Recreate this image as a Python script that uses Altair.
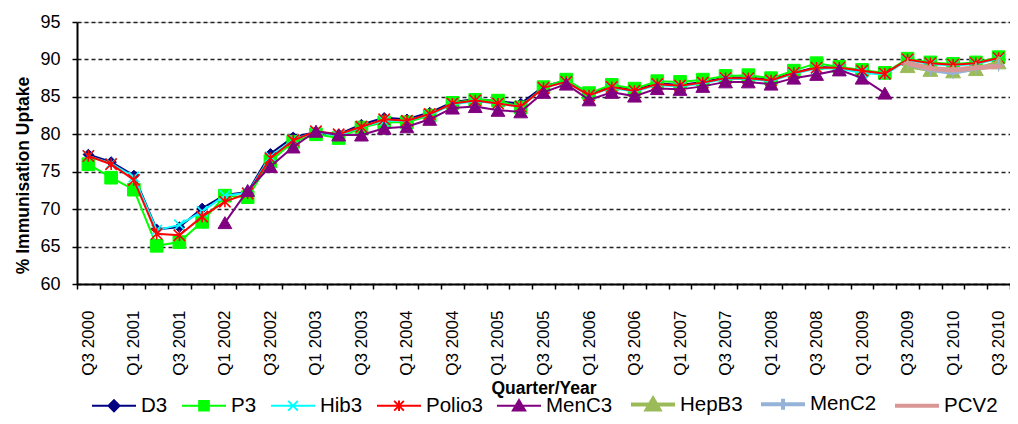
import altair as alt
import pandas as pd

quarters = ["Q3 2000", "Q4 2000",
            "Q1 2001", "Q2 2001", "Q3 2001", "Q4 2001",
            "Q1 2002", "Q2 2002", "Q3 2002", "Q4 2002",
            "Q1 2003", "Q2 2003", "Q3 2003", "Q4 2003",
            "Q1 2004", "Q2 2004", "Q3 2004", "Q4 2004",
            "Q1 2005", "Q2 2005", "Q3 2005", "Q4 2005",
            "Q1 2006", "Q2 2006", "Q3 2006", "Q4 2006",
            "Q1 2007", "Q2 2007", "Q3 2007", "Q4 2007",
            "Q1 2008", "Q2 2008", "Q3 2008", "Q4 2008",
            "Q1 2009", "Q2 2009", "Q3 2009", "Q4 2009",
            "Q1 2010", "Q2 2010", "Q3 2010"]

N = None
d3 = [77.3, 76.3, 74.5, 67.3, 67.6, 70.1, 71.9, 72.3, 77.4, 79.6,
      80.3, 80.0, 81.3, 82.2, 82.0, 82.9, 84.3, 84.7, 84.4, 84.1,
      86.4, 87.2, 85.4, 86.4, 85.9, 86.8, 86.6, 87.0, 87.6, 87.6,
      87.3, 88.2, 89.0, 88.9, 88.5, 88.1, 90.0, 89.5, 89.3, 89.5, 90.2]
p3 = [76.0, 74.2, 72.6, 65.1, 65.6, 68.3, 71.8, 71.6, 76.4, 79.0,
      80.0, 79.5, 80.9, 81.6, 81.6, 82.5, 84.2, 84.6, 84.5, 83.6,
      86.3, 87.3, 85.5, 86.6, 86.1, 87.1, 87.0, 87.3, 87.8, 87.9,
      87.5, 88.5, 89.5, 89.0, 88.6, 88.2, 90.1, 89.6, 89.4, 89.6, 90.3]
hib3 = [77.1, 76.1, 74.3, 67.2, 67.9, 69.7, 71.8, 72.2, 77.0, 79.3,
        80.3, 79.8, 81.0, 81.8, 81.8, 82.6, 84.0, 84.4, 84.1, 83.7,
        86.2, 87.0, 85.2, 86.2, 85.7, 86.6, 86.4, 86.8, 87.4, 87.4,
        87.1, 88.1, 88.8, 88.8, 88.2, 88.0, 89.9, 89.4, 89.2, 89.4, 90.1]
polio3 = [77.1, 76.0, 73.9, 66.7, 66.5, 69.0, 71.0, 72.1, 76.8, 79.2,
          80.4, 80.0, 81.0, 82.0, 81.8, 82.7, 84.1, 84.5, 84.1, 83.7,
          86.2, 87.0, 85.2, 86.3, 85.8, 86.7, 86.5, 86.9, 87.5, 87.5,
          87.2, 88.2, 88.9, 88.9, 88.5, 88.1, 90.0, 89.5, 89.3, 89.5, 90.2]
menc3 = [N, N, N, N, N, N, 68.2, 72.5, 75.7, 78.3,
         80.4, 79.9, 79.9, 80.8, 81.0, 82.0, 83.5, 83.7, 83.2, 83.0,
         85.6, 86.7, 84.6, 85.6, 85.1, 86.1, 86.0, 86.4, 87.0, 87.0,
         86.7, 87.5, 88.0, 88.6, 87.5, 85.5, N, N, N, N, N]
hepb3 = [N] * 36 + [89.1, 88.6, 88.4, 88.7, 89.6]
menc2 = [N] * 36 + [89.4, 88.6, 88.2, 88.8, 89.2]
pcv2 = [N] * 36 + [89.5, 88.8, 88.6, 88.9, 89.1]

series = ["D3", "P3", "Hib3", "Polio3", "MenC3", "HepB3", "MenC2", "PCV2"]
values = [d3, p3, hib3, polio3, menc3, hepb3, menc2, pcv2]
colors = ["#000080", "#00FF00", "#00FFFF", "#FF0000", "#800080",
          "#9BBB59", "#95B3D7", "#D99694"]
line_widths = [2, 2, 2, 2, 2, 4, 4, 5]
shapes = ["diamond", "square", "M-1,-1L1,1M-1,1L1,-1",
          "M-1,-1L1,1M-1,1L1,-1M0,-1L0,1", "triangle-up", "triangle-up",
          "M0,-1L0,1M-1,0L1,0", "M-1,0L1,0"]
sizes = [110, 160, 110, 130, 190, 220, 150, 64]
marker_widths = [1, 1, 1.6, 1.6, 1, 1, 1.2, 3]
legend_paths = [
    "M-1,0L1,0M0,-0.25L0.25,0L0,0.25L-0.25,0Z",
    "M-1,0L1,0M-0.22,-0.22L0.22,-0.22L0.22,0.22L-0.22,0.22Z",
    "M-1,0L1,0M-0.22,-0.22L0.22,0.22M-0.22,0.22L0.22,-0.22",
    "M-1,0L1,0M-0.22,-0.22L0.22,0.22M-0.22,0.22L0.22,-0.22M0,-0.24L0,0.24",
    "M-1,0L1,0M0,-0.26L0.28,0.22L-0.28,0.22Z",
    "M-1,0L1,0M0,-0.26L0.28,0.22L-0.28,0.22Z",
    "M-1,0L1,0M0,-0.25L0,0.25",
    "M-1,0L1,0",
]
legend_widths = [2, 2, 2, 2, 2, 4, 4, 4]

rows = []
for s, vals in zip(series, values):
    for i, v in enumerate(vals):
        if v is not None:
            rows.append({"idx": i, "series": s, "value": v})
df = pd.DataFrame(rows)

FONT = "Liberation Sans"


def js_map(keys, vals, default):
    expr = default
    for k, v in reversed(list(zip(keys, vals))):
        vv = f"'{v}'" if isinstance(v, str) else str(v)
        expr = f"(datum.value === '{k}' ? {vv} : {expr})"
    return expr


label_arr = "[" + ",".join(f"'{q}'" for q in quarters) + "]"
label_expr = (f"(round(datum.value + 0.5) % 2 == 0 && round(datum.value + 0.5) <= 40)"
              f" ? {label_arr}[round(datum.value + 0.5)] : ''")
tick_vals = [i - 0.5 for i in range(len(quarters) + 1)]

W, H = 933, 262
band = W / len(quarters)

x_enc = alt.X("idx:Q",
              scale=alt.Scale(domain=[-0.5, len(quarters) - 0.5], nice=False, zero=False),
              axis=alt.Axis(values=tick_vals, labelExpr=label_expr, labelAngle=270,
                            labelOffset=band / 2, labelOverlap=False, labelFontSize=17,
                            labelFont=FONT, labelColor="black", labelPadding=21,
                            tickSize=5, tickColor="black", tickWidth=1.5,
                            domainColor="black", domainWidth=2, grid=False,
                            title="Quarter/Year", titleFont=FONT, titleFontSize=17.5,
                            titleFontWeight="bold", titleColor="black",
                            titleX=W / 2, titleY=104, titleBaseline="middle"))
y_enc = alt.Y("value:Q",
              scale=alt.Scale(domain=[60, 95], nice=False, zero=False),
              axis=alt.Axis(values=[60, 65, 70, 75, 80, 85, 90, 95], labelFontSize=18,
                            labelFont=FONT, labelColor="black", labelPadding=12,
                            tickSize=5, tickColor="black", tickWidth=1.5,
                            domainColor="black", domainWidth=2,
                            grid=True, gridDash=[4, 3], gridColor="#222222", gridWidth=1.3,
                            title="% Immunisation Uptake", titleFont=FONT, titleFontSize=17.5,
                            titleFontWeight="bold", titleColor="black",
                            titleX=-54, titleY=153, titleAngle=270, titleAlign="center",
                            titleBaseline="middle"))

color_scale = alt.Scale(domain=series, range=colors)

legend = alt.Legend(
    title=None, orient="none", legendX=14, legendY=359, direction="horizontal",
    columns=8, symbolSize=1936, labelFontSize=20.5, labelFont=FONT, labelColor="black",
    labelOffset=4, columnPadding=10, padding=0, labelLimit=300,
    symbolType=alt.ExprRef(js_map(series, legend_paths, "'circle'")),
    symbolStrokeWidth=alt.ExprRef(js_map(series, legend_widths, "2")),
    symbolFillColor=alt.ExprRef("scale('color', datum.value)"),
    symbolStrokeColor=alt.ExprRef("scale('color', datum.value)"),
    symbolOpacity=1,
)

base = alt.Chart(df)
layers = []
for s, c, lw, shp, sz, mw in zip(series, colors, line_widths, shapes, sizes, marker_widths):
    sub = base.transform_filter(alt.datum.series == s)
    layers.append(sub.mark_line(strokeWidth=lw).encode(
        x=x_enc, y=y_enc,
        color=alt.Color("series:N", scale=color_scale, legend=legend),
    ))
    layers.append(sub.mark_point(shape=shp, size=sz, filled=True, fill=c, stroke=c,
                                 strokeWidth=mw, opacity=1).encode(x=x_enc, y=y_enc))

chart = alt.layer(*layers).properties(
    width=W, height=H,
    autosize=alt.AutoSizeParams(type="none"),
    padding={"left": 69, "top": 14, "right": 0, "bottom": 132},
).configure_view(stroke=None).configure(font=FONT, background="white")

chart.save("out.html", embed_options={"renderer": "svg", "actions": False})
